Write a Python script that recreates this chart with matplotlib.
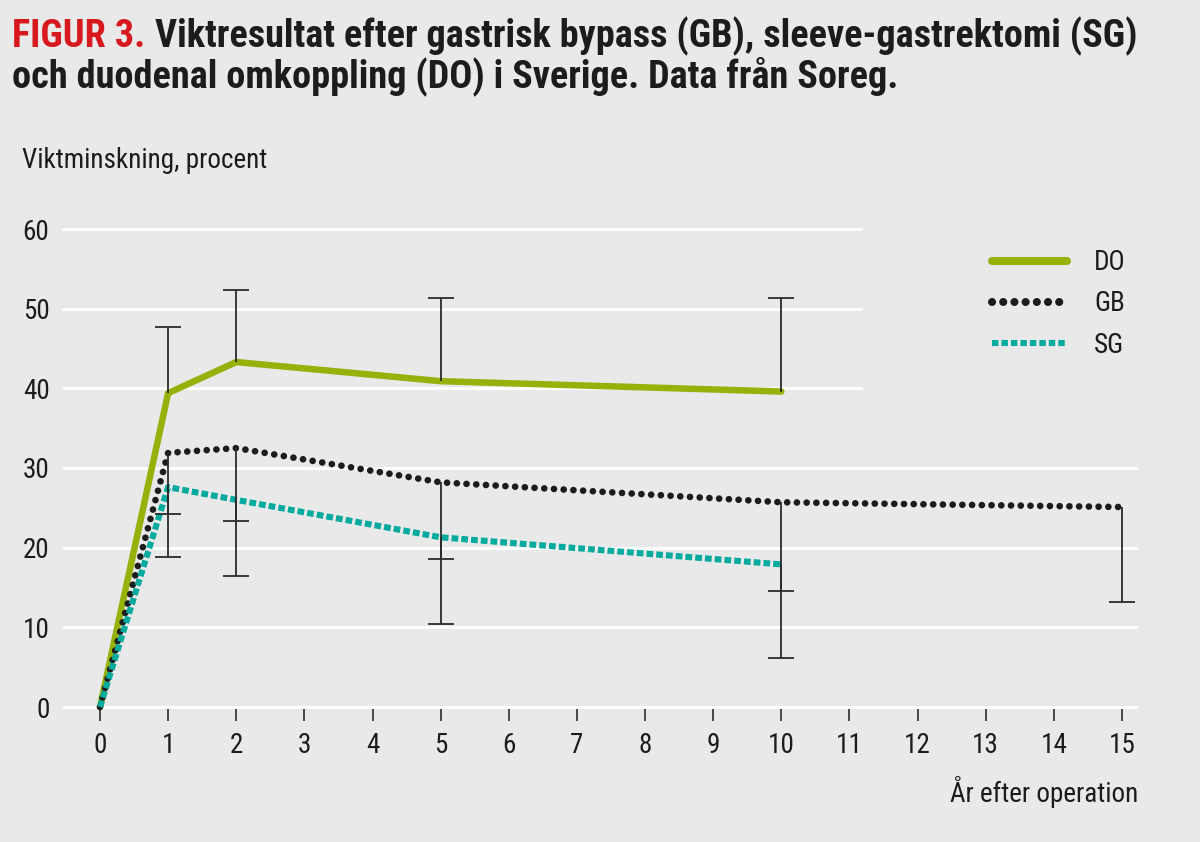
import matplotlib
matplotlib.use("Agg")
import matplotlib.pyplot as plt
from matplotlib import font_manager as fm
from matplotlib.lines import Line2D

# data
years_do = [0, 1, 2, 5, 10]
do_vals = [0, 39.4, 43.3, 40.9, 39.6]
do_upper = [47.7, 52.4, 51.3, 51.3]      # at years 1, 2, 5, 10

years_gb = [0, 1, 2, 5, 10, 15]
gb_vals = [0, 31.9, 32.5, 28.2, 25.7, 25.1]
gb_lower = [24.2, 23.3, 18.6, 14.6, 13.2]  # at years 1, 2, 5, 10, 15

years_sg = [0, 1, 2, 5, 10]
sg_vals = [0, 27.6, 26.0, 21.3, 17.9]
sg_lower = [18.8, 16.4, 10.4, 6.1]       # at years 1, 2, 5, 10

yticks = [0, 10, 20, 30, 40, 50, 60]
xticks = list(range(16))

title_red = "FIGUR 3."
title_1 = "Viktresultat efter gastrisk bypass (GB), sleeve-gastrektomi (SG)"
title_2 = "och duodenal omkoppling (DO) i Sverige. Data från Soreg."

BG = "#e9e9e9"
GREEN = "#95b20b"
TEAL = "#00aa9d"
DARK = "#1c1c1c"
ERR = "#2b2b2b"
RED = "#d7191f"

# pick a narrow sans if one is installed
fonts = fm.fontManager.ttflist
names = {f.name for f in fonts}
family, stretch = "DejaVu Sans", "normal"
for cand in ["Liberation Sans Narrow", "Roboto Condensed", "Open Sans Condensed",
             "Noto Sans Condensed", "DejaVu Sans Condensed"]:
    if cand in names:
        family = cand
        break
else:
    for fam in ["Noto Sans", "Open Sans", "Roboto", "DejaVu Sans"]:
        if any(f.name == fam and f.stretch in ("condensed", "semi-condensed")
               for f in fonts):
            family, stretch = fam, "condensed"
            break

plt.rcParams["font.family"] = [family, "DejaVu Sans"]
plt.rcParams["font.stretch"] = stretch

W, H = 1200, 842
fig = plt.figure(figsize=(W / 100, H / 100), dpi=100, facecolor=BG)

# axes placed in pixels: x 0 -> px 100, 15 -> px 1122 ; y 0 -> px 707, 60 -> px 229
xpu = (1122 - 100) / 15
ypu = (707 - 229) / 60
x0 = -(100 - 62) / xpu
x1 = 15 + (1138 - 1122) / xpu
y0, y1 = -0.25, 61
ax = fig.add_axes([62 / W, (H - (707 - y0 * ypu)) / H,
                   (1138 - 62) / W, (y1 - y0) * ypu / H])
ax.set_facecolor(BG)
ax.set_xlim(x0, x1)
ax.set_ylim(y0, y1)
for s in ax.spines.values():
    s.set_visible(False)

# white grid lines; the upper ones stop before the legend
grid_short_end = (862 - 100) / xpu
for y in yticks:
    xe = grid_short_end if y >= 40 else x1
    ax.hlines(y, x0, xe, color="white", lw=2.2, zorder=0)

LS = 19.5
ax.set_xticks(xticks)
ax.set_yticks(yticks)
ax.tick_params(axis="x", length=8.6, width=1.1, color=DARK, pad=8,
               labelsize=LS, labelcolor=DARK)
ax.tick_params(axis="y", length=0, pad=9, labelsize=LS, labelcolor=DARK)

# series
ax.plot(years_do, do_vals, color=GREEN, lw=4.7, solid_joinstyle="round",
        solid_capstyle="round", zorder=3, clip_on=False)
ax.plot(years_gb, gb_vals, color=DARK, lw=4.8, linestyle=(0, (0.01, 1.45)),
        dash_capstyle="round", zorder=4, clip_on=False)
ax.plot(years_sg, sg_vals, color=TEAL, lw=4.4, linestyle=(0, (1.1, 0.5)),
        dash_capstyle="butt", zorder=5, clip_on=False)

# one-sided error bars
cap = 18.5
for xs, ys, ends in [(years_do[1:], do_vals[1:], do_upper),
                     (years_gb[1:], gb_vals[1:], gb_lower),
                     (years_sg[1:], sg_vals[1:], sg_lower)]:
    ax.vlines(xs, ys, ends, color=ERR, lw=1.3, zorder=6)
    ax.plot(xs, ends, ls="none", marker="_", ms=cap, mew=1.3, color=ERR, zorder=6)

# legend
handles = [
    Line2D([], [], color=GREEN, lw=5.8, solid_capstyle="round"),
    Line2D([], [], color=DARK, lw=5.8, linestyle=(0, (0.01, 1.38)), dash_capstyle="round"),
    Line2D([], [], color=TEAL, lw=4.4, linestyle=(0, (1.05, 0.5))),
]
ax.legend(handles, ["DO", "GB", "SG"], loc="upper left",
          bbox_to_anchor=(968 / W, (H - 225) / H), bbox_transform=fig.transFigure,
          frameon=False, fontsize=LS, handlelength=2.75, handletextpad=1.0,
          labelspacing=0.52, labelcolor=DARK)

# axis labels
fig.text(22 / W, (H - 160) / H, "Viktminskning, procent", fontsize=LS,
         color=DARK, va="center", ha="left")
fig.text(1138 / W, (H - 792) / H, "År efter operation", fontsize=LS,
         color=DARK, va="center", ha="right")

# title: red label followed by black text, sized so line 1 ends near px 1140
fs = 27
t_red = fig.text(12 / W, (H - 47) / H, title_red, fontsize=fs, weight="bold",
                 color=RED, va="baseline", ha="left")
t_1 = fig.text(0, (H - 47) / H, title_1, fontsize=fs, weight="bold",
               color=DARK, va="baseline", ha="left")
t_2 = fig.text(12 / W, (H - 87) / H, title_2, fontsize=fs, weight="bold",
               color=DARK, va="baseline", ha="left")
r = fig.canvas.get_renderer()
total = t_red.get_window_extent(r).width + 10 + t_1.get_window_extent(r).width
fs = min(32, fs * (1140 - 12) / total)
for t in (t_red, t_1, t_2):
    t.set_fontsize(fs)
bb = t_red.get_window_extent(r)
t_1.set_x((bb.x1 + 10) / W)

fig.savefig("out.png", dpi=100, facecolor=BG)
